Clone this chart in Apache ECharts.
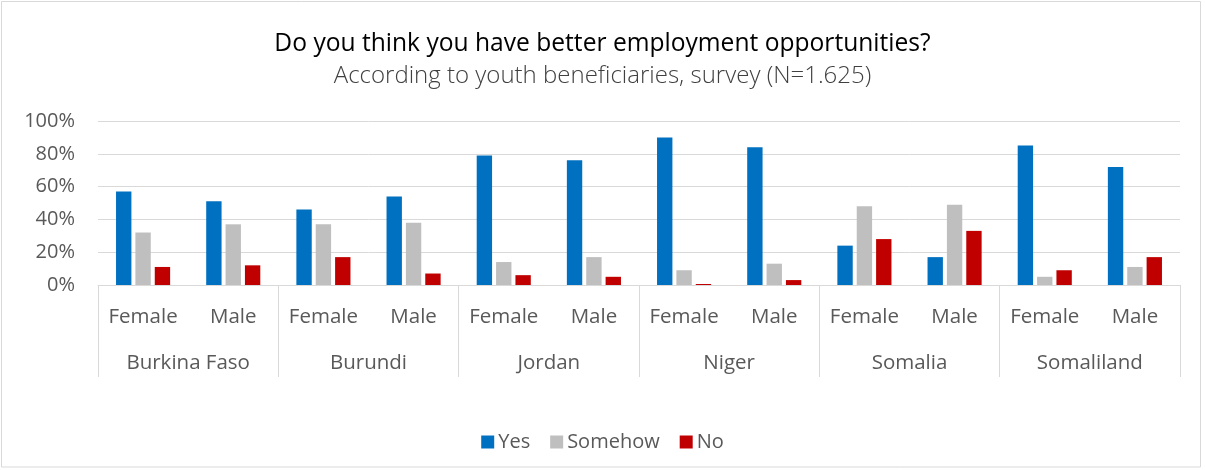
<!DOCTYPE html>
<html>
<head>
<meta charset="utf-8">
<title>Better employment opportunities</title>
<script src="https://cdn.jsdelivr.net/npm/echarts@6/dist/echarts.min.js"></script>
<style>
  html, body { margin: 0; padding: 0; background: #fff; }
  #chart { width: 1205px; height: 470px; }
</style>
</head>
<body>
<div id="chart"></div>
<script>
// Survey answers by country and gender (percent of respondents)
const countries = ['Burkina Faso', 'Burundi', 'Jordan', 'Niger', 'Somalia', 'Somaliland'];
const genders = ['Female', 'Male'];
const yesValues     = [57, 51, 46, 54, 79, 76, 90, 84, 24, 17, 85, 72];
const somehowValues = [32, 37, 37, 38, 14, 17, 9, 13, 48, 49, 5, 11];
const noValues      = [11, 12, 17, 7, 6, 5, 0.6, 3, 28, 33, 9, 17];
const yTicks = [0, 20, 40, 60, 80, 100];

const genderLabels = countries.flatMap(() => genders);

const labelFont = { fontFamily: 'Open Sans', fontSize: 20.5, color: '#595959' };
const gridGray = '#D9D9D9';

const chart = echarts.init(document.getElementById('chart'), null, { renderer: 'canvas' });

chart.setOption({
  animation: false,
  backgroundColor: '#fff',
  title: [
    {
      text: 'Do you think you have better employment opportunities?',
      left: 'center',
      top: 26,
      textStyle: { fontFamily: 'Open Sans', fontSize: 24.6, fontWeight: 'normal', color: '#000' }
    },
    {
      text: 'According to youth beneficiaries, survey (N=1.625)',
      left: 'center',
      top: 59,
      textStyle: { fontFamily: 'Open Sans', fontSize: 24, fontWeight: 300, color: '#404040' }
    }
  ],
  graphic: [{
    type: 'rect',
    shape: { x: 1.5, y: 1.5, width: 1199, height: 465.5 },
    style: { fill: 'none', stroke: gridGray, lineWidth: 1 },
    silent: true
  }],
  legend: {
    left: 'center',
    top: 427,
    itemWidth: 13,
    itemHeight: 13,
    itemGap: 20,
    icon: 'rect',
    textStyle: Object.assign({ padding: [0, 0, 0, -1] }, labelFont, { fontSize: 20 }),
    data: ['Yes', 'Somehow', 'No']
  },
  grid: { left: 98, right: 25, top: 121, bottom: 185, containLabel: false },
  xAxis: [
    {
      type: 'category',
      data: genderLabels,
      axisLine: { show: true, lineStyle: { color: gridGray, width: 1 } },
      axisTick: { show: false },
      axisLabel: Object.assign({ margin: 22, interval: 0 }, labelFont),
      splitLine: { show: false }
    },
    {
      type: 'category',
      data: countries,
      position: 'bottom',
      axisLine: { show: false },
      axisTick: { show: true, length: 92, lineStyle: { color: gridGray, width: 1 } },
      axisLabel: Object.assign({ margin: 68, interval: 0 }, labelFont),
      splitLine: { show: false }
    }
  ],
  yAxis: {
    type: 'value',
    min: yTicks[0],
    max: yTicks[yTicks.length - 1],
    interval: 20,
    axisLine: { show: false },
    axisTick: { show: false },
    axisLabel: Object.assign({ margin: 23, formatter: '{value}%' }, labelFont, { fontSize: 20 }),
    splitLine: { lineStyle: { color: gridGray, width: 1 } }
  },
  series: [
    { name: 'Yes', type: 'bar', data: yesValues, itemStyle: { color: '#0070C0' },
      barCategoryGap: '40%', barGap: '26%' },
    { name: 'Somehow', type: 'bar', data: somehowValues, itemStyle: { color: '#BFBFBF' },
      barCategoryGap: '40%', barGap: '26%' },
    { name: 'No', type: 'bar', data: noValues, itemStyle: { color: '#C00000' },
      barCategoryGap: '40%', barGap: '26%' }
  ]
});
</script>
</body>
</html>
